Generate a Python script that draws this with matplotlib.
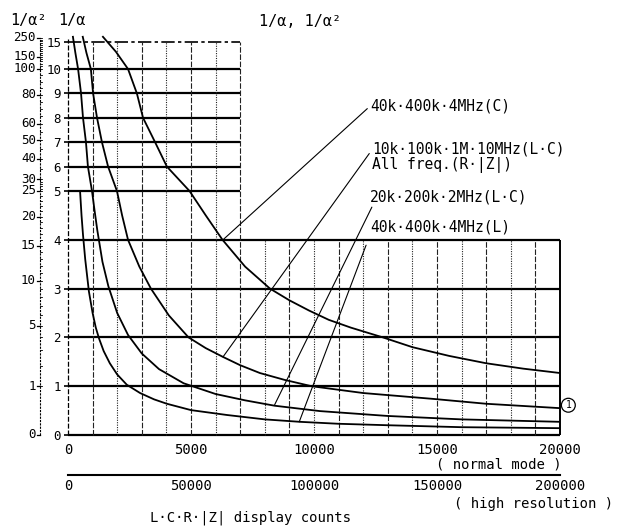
import numpy as np
import matplotlib
matplotlib.use('Agg')
import matplotlib.pyplot as plt
from matplotlib import transforms

plt.rcParams['font.family'] = ['DejaVu Sans Mono', 'DejaVu Sans']

# ---------------- data ----------------
counts_c40 = [1420, 1950, 2440, 2800, 3050, 3540, 4020, 4940, 5600, 6280, 7200,
              8210, 9000, 9800, 10600, 11500, 12800, 14000, 15500, 17000, 18500, 20000]
inv_a_c40 = [16, 13.2, 10, 9, 8, 7, 6, 5, 4.5, 4, 3.45,
             3, 2.76, 2.55, 2.36, 2.2, 2, 1.8, 1.62, 1.47, 1.36, 1.27]

counts_lc10 = [600, 750, 930, 1020, 1180, 1380, 1630, 1990, 2200, 2440, 2900, 3370,
               4100, 4900, 5600, 6300, 7000, 7800, 8800, 9900, 12000, 14840, 17000, 20000]
inv_a_lc10 = [16, 13, 10, 9, 8, 7, 6, 5, 4.5, 4, 3.45, 3,
              2.45, 2, 1.78, 1.6, 1.43, 1.27, 1.13, 1.0, 0.86, 0.74, 0.64, 0.55]

counts_lc20 = [200, 300, 410, 530, 610, 730, 810, 975, 1080, 1190, 1400, 1640, 2000,
               2440, 3000, 3700, 4700, 6000, 7200, 8400, 10240, 13000, 16000, 20000]
inv_a_lc20 = [16, 13, 10, 9, 8, 7, 6, 5, 4.6, 4.2, 3.55, 3.05, 2.5,
              2.05, 1.67, 1.35, 1.06, 0.84, 0.71, 0.6, 0.49, 0.39, 0.32, 0.27]

counts_l40 = [490, 550, 610, 700, 850, 1000, 1130, 1260, 1450, 1700, 2000, 2390, 2930,
              3500, 4020, 5000, 6460, 8000, 9430, 11000, 13000, 16000, 20000]
inv_a_l40 = [5, 4.5, 4.1, 3.6, 2.94, 2.5, 2.2, 1.98, 1.72, 1.47, 1.24, 1.03, 0.86,
             0.73, 0.64, 0.51, 0.41, 0.32, 0.27, 0.23, 0.2, 0.16, 0.14]

label_c40 = "40k·400k·4MHz(C)"
label_lc10 = "10k·100k·1M·10MHz(L·C)\nAll freq.(R·|Z|)"
label_lc20 = "20k·200k·2MHz(L·C)"
label_l40 = "40k·400k·4MHz(L)"

x_ticks_normal = [0, 5000, 10000, 15000, 20000]
x_ticks_high = [0, 50000, 100000, 150000, 200000]
inv_alpha_ticks = [0, 1, 2, 3, 4, 5, 6, 7, 8, 9, 10, 15]
inv_alpha2_ticks = [0, 1, 5, 10, 15, 20, 25, 30, 40, 50, 60, 80, 100, 150, 250]
lower_lines = [0, 1, 2, 3, 4]
upper_lines = [5, 6, 7, 8, 9, 10]
top_line = 15
grid_counts = list(range(1000, 20000, 1000))
upper_block_end = 7000
x_max = 20000


# ---------------- piecewise 1/alpha scale ----------------
def fwd(v):
    v = np.asarray(v, float)
    return np.where(v <= 5, v, np.where(v <= 10, 5 + (v - 5) * 0.5, 7.5 + (v - 10) * 0.11))


def inv(u):
    u = np.asarray(u, float)
    return np.where(u <= 5, u, np.where(u <= 7.5, 5 + (u - 5) * 2, 10 + (u - 7.5) / 0.11))


W, H = 629, 529
fig = plt.figure(figsize=(W / 100, H / 100), dpi=100)
fig.patch.set_facecolor('white')

px_left, px_right, px_zero = 68, 560, 435
px_per_u = 48.8
y_max = 16.5
ax_h_px = float(fwd(y_max)) * px_per_u
ax = fig.add_axes([px_left / W, (H - px_zero) / H, (px_right - px_left) / W, ax_h_px / H])
ax.set_yscale('function', functions=(fwd, inv))
for s in ax.spines.values():
    s.set_visible(False)

# horizontal grid
ax.hlines(lower_lines, 0, x_max, colors='k', lw=1.6, clip_on=False)
ax.hlines(upper_lines, 0, upper_block_end, colors='k', lw=1.6, clip_on=False)
ax.hlines([top_line], 0, upper_block_end, colors='k', lw=1.2,
          linestyles=[(0, (8, 2, 2, 2))], clip_on=False)

# vertical grid
for k in grid_counts:
    top = top_line if k <= upper_block_end else lower_lines[-1]
    style = (0, (5, 1.5)) if (k // 1000) % 2 == 1 else (0, (1, 1.2))
    ax.vlines(k, 0, top, colors='#222222', lw=0.8, linestyles=[style], clip_on=False)
ax.vlines(0, 0, 15.6, colors='k', lw=0.9, linestyles=[(0, (4, 1.5))], clip_on=False)
ax.vlines(x_max, 0, lower_lines[-1], colors='k', lw=1.4, clip_on=False)

# curves
for xs, ys in [(counts_c40, inv_a_c40), (counts_lc10, inv_a_lc10),
               (counts_lc20, inv_a_lc20), (counts_l40, inv_a_l40)]:
    ax.plot(xs, ys, color='k', lw=1.3, solid_joinstyle='round')

# annotations
lab_fs = 10.5
ap = dict(arrowstyle='-', lw=0.8, color='k', shrinkB=0)
ax.annotate(label_c40, xy=(6300, 4.0), xytext=(12280, 8.48), ha='left', va='center',
            fontsize=lab_fs, arrowprops=dict(ap, shrinkA=0, relpos=(0, 0.5)),
            annotation_clip=False)
ax.annotate(label_lc10, xy=(6300, 1.6), xytext=(12360, 6.37), ha='left', va='center',
            fontsize=lab_fs, linespacing=1.05,
            arrowprops=dict(ap, shrinkA=0, relpos=(0, 0.75)), annotation_clip=False)
ax.annotate(label_lc20, xy=(8400, 0.62), xytext=(12280, 4.88), ha='left', va='center',
            fontsize=lab_fs, arrowprops=dict(ap, shrinkA=0, relpos=(0.02, 0.0)),
            annotation_clip=False)
ax.annotate(label_l40, xy=(9400, 0.27), xytext=(12280, 4.26), ha='left', va='center',
            fontsize=lab_fs, arrowprops=dict(ap, shrinkA=6, relpos=(0, 0.0)),
            annotation_clip=False)
ax.annotate('1', xy=(x_max, 0.61), xytext=(6, 0), textcoords='offset points',
            ha='center', va='center', fontsize=7,
            bbox=dict(boxstyle='circle,pad=0.2', fc='white', ec='k', lw=0.9),
            annotation_clip=False)

# primary axes ticks
ax.set_xlim(0, x_max)
ax.set_ylim(0, y_max)
ax.set_xticks(x_ticks_normal)
ax.set_xticklabels([str(t) for t in x_ticks_normal])
ax.tick_params(axis='x', length=0, pad=6, labelsize=10)
ax.set_yticks(inv_alpha_ticks)
ax.set_yticklabels([str(t) for t in inv_alpha_ticks])
ax.yaxis.set_minor_locator(matplotlib.ticker.NullLocator())
ax.tick_params(axis='y', length=3, width=1.2, pad=2, labelsize=9)

# secondary (high resolution) x axis
sec = ax.secondary_xaxis(-(475 - px_zero) / ax_h_px,
                         functions=(lambda x: x * 10, lambda x: x / 10))
sec.set_xticks(x_ticks_high)
sec.set_xticklabels([str(t) for t in x_ticks_high])
sec.tick_params(length=0, pad=3, labelsize=10)
sec.spines['bottom'].set_linewidth(1.5)

# 1/alpha^2 axis
trans = transforms.blended_transform_factory(ax.transAxes, ax.transData)
axw = px_right - px_left
xa = (40 - px_left) / axw
ax.plot([xa, xa], [0, np.sqrt(inv_alpha2_ticks[-1])], transform=trans, color='k',
        lw=0.8, ls=(0, (2, 1)), clip_on=False)
minor_sq = list(range(1, 30)) + list(range(30, 100, 5)) + list(range(100, 260, 10))
for m in minor_sq:
    ax.plot([xa, xa + 2 / axw], [np.sqrt(m)] * 2, transform=trans, color='k',
            lw=0.6, clip_on=False)
for t in inv_alpha2_ticks:
    ax.plot([xa - 3 / axw, xa], [np.sqrt(t)] * 2, transform=trans, color='k',
            lw=0.9, clip_on=False)
    ax.text(xa - 4 / axw, np.sqrt(t), str(t), transform=trans, ha='right', va='center',
            fontsize=9, clip_on=False)
ax.set_xlim(0, x_max)
ax.set_ylim(0, y_max)

# figure texts
fig.text(28 / W, 1 - 21 / H, "1/α²", ha='center', va='center', fontsize=11)
fig.text(72 / W, 1 - 20 / H, "1/α", ha='center', va='center', fontsize=11)
fig.text(300 / W, 1 - 22 / H, "1/α, 1/α²", ha='center', va='center', fontsize=11)
fig.text(562 / W, 1 - 464 / H, "( normal mode )", ha='right', va='center', fontsize=10)
fig.text(613 / W, 1 - 504 / H, "( high resolution )", ha='right', va='center', fontsize=10)
fig.text(250 / W, 1 - 518 / H, "L·C·R·|Z| display counts", ha='center', va='center',
         fontsize=10)

fig.savefig('out.png', dpi=100, facecolor='white')
